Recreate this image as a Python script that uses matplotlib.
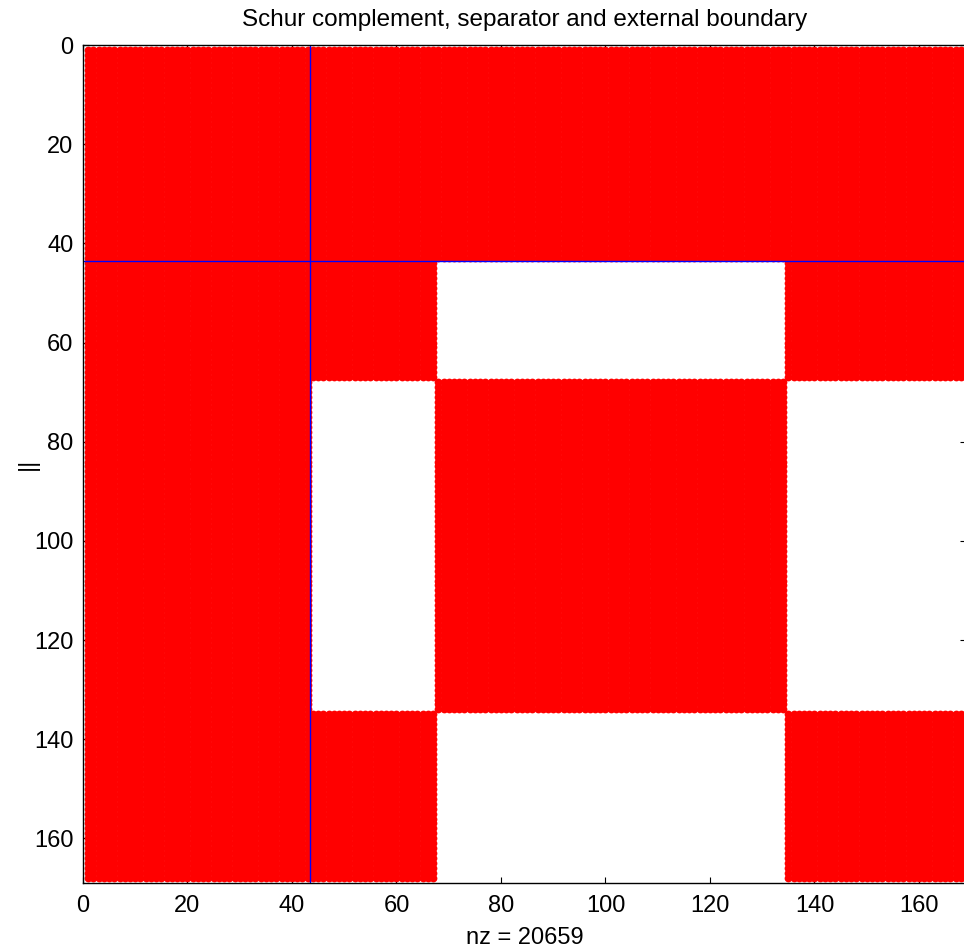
import numpy as np
import matplotlib
matplotlib.use("Agg")
from matplotlib import pyplot as plt

plt.rcParams['font.family'] = ['Liberation Sans', 'DejaVu Sans']

# matrix size and node groups (1-based, inclusive)
n = 168
separator = (1, 43)          # rows/cols fully coupled
group_a = (44, 67)
group_b = (68, 134)
group_c = (135, 168)
# which interior groups are coupled
couplings = [("a", "a"), ("b", "b"), ("c", "c"), ("a", "c"), ("c", "a")]
sep_line = 43.5
nz_label = "nz = 20659"
title = "Schur complement, separator and external boundary"

groups = {"a": group_a, "b": group_b, "c": group_c}

M = np.zeros((n, n), dtype=bool)
M[separator[0]-1:separator[1], :] = True
M[:, separator[0]-1:separator[1]] = True
for g1, g2 in couplings:
    r0, r1 = groups[g1]
    c0, c1 = groups[g2]
    M[r0-1:r1, c0-1:c1] = True

rows, cols = np.nonzero(M)
rows = rows + 1
cols = cols + 1

fig = plt.figure(figsize=(9.64, 9.49), dpi=100)
ax = fig.add_axes([83/964, 66/949, 883/964, 838/949])

ax.plot(cols, rows, 'o', color='red', markersize=5.6, markeredgewidth=0)
ax.axvline(sep_line, color='blue', lw=1)
ax.axhline(sep_line, color='blue', lw=1)

ax.set_xlim(0, n+1)
ax.set_ylim(n+1, 0)
ax.set_xticks(np.arange(0, 161, 20))
ax.set_yticks(np.arange(0, 161, 20))
ax.tick_params(direction='in', length=4, top=True, right=True, labelsize=17)
ax.tick_params(axis='y', pad=7)
ax.tick_params(axis='x', pad=9)
for s in ax.spines.values():
    s.set_linewidth(1)
    s.set_zorder(5)

ax.set_xlabel(nz_label, fontsize=17, labelpad=7)
ax.set_ylabel("||", fontsize=17, labelpad=-4)
ax.set_title(title, fontsize=17.5, pad=14)

fig.savefig("out.png", dpi=100)
